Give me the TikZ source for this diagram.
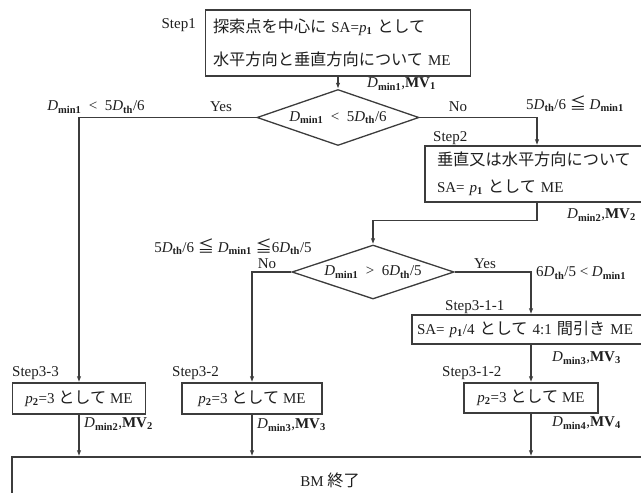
\documentclass[tikz,border=0pt]{standalone}
\usepackage{fontspec}
\setmainfont{Liberation Serif}
\newfontfamily\jpfont[Scale=1.08]{Noto Sans CJK JP}
\usetikzlibrary{arrows.meta,shapes.geometric}
\definecolor{FlowInk}{HTML}{3C3C3C}
\definecolor{FlowText}{HTML}{1E1E1E}
\newcommand{\ja}[1]{{\jpfont #1}}
\newcommand{\Dmin}[1]{\textit{D}\textsubscript{\textbf{min#1}}}
\newcommand{\Dth}{\textit{D}\textsubscript{\textbf{th}}}
\newcommand{\MVn}[1]{\textbf{MV}\textsubscript{\textbf{#1}}}
\newcommand{\pn}[1]{\textit{p}\textsubscript{\textbf{#1}}}

\begin{document}
\begin{tikzpicture}[x=1pt,y=-1pt,
      font=\fontsize{15}{18}\selectfont,text=FlowText,
      box/.style={draw=FlowInk,line width=1.3pt,inner sep=0pt},
      dec/.style={draw=FlowInk,line width=1.3pt,shape=diamond,aspect=2.8,inner sep=0pt,minimum width=162pt,minimum height=56pt},
      arr/.style={-{Latex[length=6pt,width=4.5pt]},line width=1.3pt,FlowInk},
      lbl/.style={inner sep=0pt,anchor=west}
    ]
      \useasboundingbox (0,0) rectangle (641,493);
      \clip (0,0) rectangle (641,493);
      % boxes and decisions
      \node[box,minimum width=265pt,minimum height=66pt,text width=250pt,align=left,font=\fontsize{15}{33}\selectfont] (step1) at (338,43) {\mbox{\ja{探索点を中心に} SA=\pn{1} \ja{として}}\\\mbox{\ja{水平方向と垂直方向について} ME}};
      \node[dec] (d1) at (338,117.5) {\Dmin{1}\enspace<\enspace5\Dth/6};
      \node[box,minimum width=224pt,minimum height=56pt,text width=200pt,align=left,font=\fontsize{15}{27}\selectfont] (step2) at (537,174) {\mbox{\ja{垂直又は水平方向について}}\\\mbox{SA= \pn{1} \ja{として} ME}};
      \node[dec,minimum height=54pt] (d2) at (373,272) {\Dmin{1}\enspace>\enspace6\Dth/5};
      \node[box,minimum width=238pt,minimum height=29pt,text width=228pt,align=left] (step311) at (531,329.5) {\mbox{SA= \pn{1}/4 \ja{として} 4:1 \ja{間引き} ME}};
      \node[box,minimum width=134pt,minimum height=30pt] (step312) at (531,398) {\pn{2}=3 \ja{として} ME};
      \node[box,minimum width=133pt,minimum height=31pt] (step33) at (79,398.5) {\pn{2}=3 \ja{として} ME};
      \node[box,minimum width=140pt,minimum height=31pt] (step32) at (252,398.5) {\pn{2}=3 \ja{として} ME};
      \node[box,minimum width=636pt,minimum height=46pt] (bm) at (330,480) {BM \ja{終了}};
      % step names
      \node[lbl,anchor=east] (s1) at (196,25) {Step1};
      \node[lbl] (s2) at (433,138) {Step2};
      \node[lbl] (s311) at (445,307) {Step3-1-1};
      \node[lbl] (s312) at (442,373) {Step3-1-2};
      \node[lbl] (s33) at (12,373) {Step3-3};
      \node[lbl] (s32) at (172,373) {Step3-2};
      % branch labels
      \node (c1y) at (96,107) {\Dmin{1}\enspace<\enspace5\Dth/6};
      \node (yes1) at (221,107) {Yes};
      \node (no1) at (458,107) {No};
      \node (c1n) at (575,104) {5\Dth/6 \ja{≦} \Dmin{1}};
      \node (c2n) at (233,247) {5\Dth/6 \ja{≦} \Dmin{1} \ja{≦}6\Dth/5};
      \node (no2) at (267,264) {No};
      \node (yes2) at (485,264) {Yes};
      \node[lbl] (c2y) at (536,273) {6\Dth/5 < \Dmin{1}};
      % outputs
      \node[lbl] (o1) at (367,84) {\Dmin{1},\MVn{1}};
      \node[lbl] (o2) at (567,215) {\Dmin{2},\MVn{2}};
      \node[lbl] (o3) at (552,358) {\Dmin{3},\MVn{3}};
      \node[lbl] (o4) at (552,423) {\Dmin{4},\MVn{4}};
      \node[lbl] (o5) at (84,424) {\Dmin{2},\MVn{2}};
      \node[lbl] (o6) at (257,425) {\Dmin{3},\MVn{3}};
      % connectors
      \draw[arr] (step1.south) -- (d1.north);
      \draw[arr] (d1.west) -| (step33.north);
      \draw[arr] (d1.east) -| (step2.north);
      \draw[arr] (step2.south) -- ++(0,18) -| (d2.north);
      \draw[arr] (d2.west) -| (step32.north);
      \draw[arr] (d2.east) -| (step311.north);
      \draw[arr] (step311.south) -- (step312.north);
      \draw[arr] (step33.south) -- (step33.south |- bm.north);
      \draw[arr] (step32.south) -- (step32.south |- bm.north);
      \draw[arr] (step312.south) -- (step312.south |- bm.north);
    \end{tikzpicture}
\end{document}
